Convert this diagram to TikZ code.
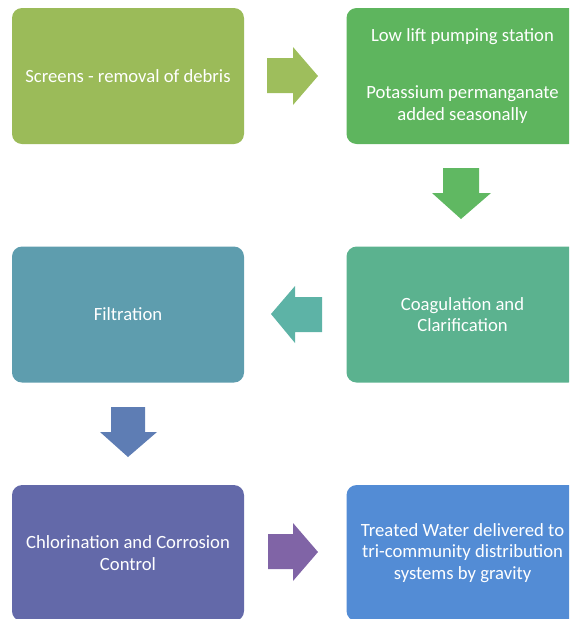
\documentclass[tikz,border=0pt]{standalone}
\usepackage{fontspec}
\setmainfont{Carlito}
\usetikzlibrary{positioning}

\definecolor{boxOlive}{HTML}{9BBB59}
\definecolor{boxGreen}{HTML}{5EB55E}
\definecolor{boxTeal}{HTML}{5BB28F}
\definecolor{boxSea}{HTML}{5E9DAE}
\definecolor{boxIndigo}{HTML}{6369A9}
\definecolor{boxBlue}{HTML}{538CD5}
\definecolor{arrOlive}{HTML}{9EBE5C}
\definecolor{arrGreen}{HTML}{60B862}
\definecolor{arrTeal}{HTML}{5DB3A6}
\definecolor{arrSlate}{HTML}{5E7DB4}
\definecolor{arrPurple}{HTML}{8064A6}

\tikzset{
	stage/.style={rectangle, rounded corners=7.5pt, minimum width=174pt, minimum height=102pt,
		inner sep=0pt, text=white, align=center, font=\fontsize{14}{16}\selectfont},
	flowarrow/.style={draw=none}
}

\begin{document}
\begin{tikzpicture}[x=0.75pt, y=-0.75pt, node distance=76.5pt]
		%%%%% START %%%%%
		\useasboundingbox (0, 0) rectangle (569, 619);
		\clip (0, 0) rectangle (569, 619);
		
		\node[stage, fill=boxOlive] (screens) at (128, 76) {Screens - removal of debris};
		\node[stage, fill=boxGreen, right=of screens] (pumping) {Low lift pumping station\\[27pt]Potassium permanganate\\added seasonally};
		\node[stage, fill=boxTeal, below=of pumping] (coag) {Coagulation and\\Clarification};
		\node[stage, fill=boxSea, left=of coag] (filtr) {Filtration};
		\node[stage, fill=boxIndigo, below=of filtr] (chlor) {Chlorination and Corrosion\\Control};
		\node[stage, fill=boxBlue, right=of chlor] (treated) {Treated Water delivered to\\tri-community distribution\\systems by gravity};
		
		% block arrows
		\fill[flowarrow, arrOlive] (267, 58) -- (293, 58) -- (293, 47) -- (318, 76) -- (293, 105) -- (293, 93) -- (267, 93) -- cycle;
		\fill[flowarrow, arrGreen] (443, 168) -- (479, 168) -- (479, 193) -- (491, 193) -- (461, 219) -- (432, 193) -- (443, 193) -- cycle;
		\fill[flowarrow, arrTeal] (322, 297) -- (295, 297) -- (295, 286) -- (271, 314) -- (295, 343) -- (295, 332) -- (322, 332) -- cycle;
		\fill[flowarrow, arrSlate] (111, 407) -- (145, 407) -- (145, 432) -- (157, 432) -- (128, 457) -- (100, 432) -- (111, 432) -- cycle;
		\fill[flowarrow, arrPurple] (268, 534) -- (293, 534) -- (293, 523) -- (318, 552) -- (293, 581) -- (293, 569) -- (268, 569) -- cycle;
		
		%%%%% END %%%%%
	\end{tikzpicture}
\end{document}
